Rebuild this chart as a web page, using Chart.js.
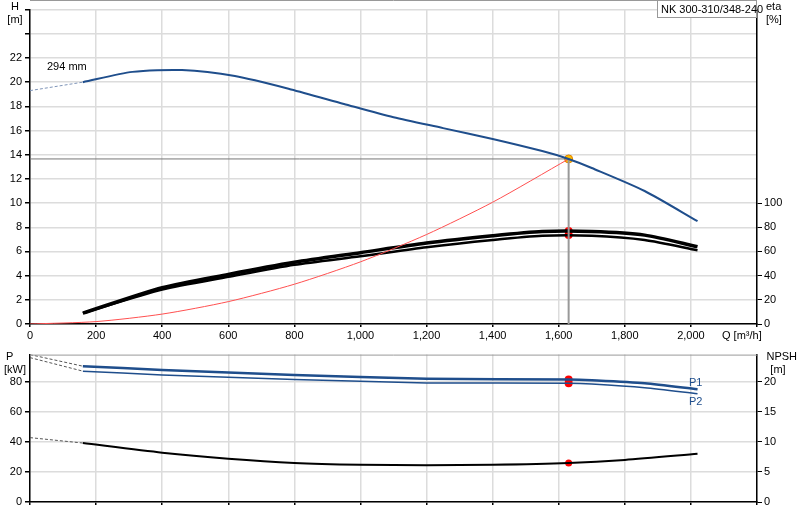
<!DOCTYPE html>
<html><head><meta charset="utf-8">
<script src="https://cdn.jsdelivr.net/npm/chart.js@4"></script>
<style>body{margin:0;background:#fff}#a{width:800px;height:345px}#b{width:800px;height:175px}div{position:relative}</style>
</head><body>
<div id="a"><canvas id="c1"></canvas></div>
<div id="b"><canvas id="c2"></canvas></div>
<script>
const headQ=[160,310,460,620,790,950,1100,1250,1400,1550,1630,1700,1860,2020];
const headH=[20.0,20.85,21.0,20.5,19.4,18.2,17.1,16.2,15.3,14.3,13.65,12.9,11.0,8.5];
const headDashQ=[0,160], headDashH=[19.3,20.0];
const etaQ=[160,400,600,800,1000,1200,1400,1550,1700,1860,2020];
const eta1=[9,30,41,51,59,67,73,76.5,76.5,73.5,64];
const eta2=[9,28.5,39,49,56,63.5,69.5,73,73,69.5,61];
const sysQ=[0,200,400,600,800,1000,1200,1400,1630];
const sysH=[0,0.2,0.82,1.85,3.29,5.14,7.4,10.07,13.65];
const dutyQ=1630, dutyH=13.65, dutyEta1=77, dutyEta2=73.5;
const pQ=[160,400,800,1200,1630,1700,1860,2020];
const p1=[90.3,87.8,84.5,82,81.5,81,79,75];
const p2=[87,84.5,81.5,79.2,79,78.5,76,72];
const p1Dash=[98,90.3], p2Dash=[96,87], pDashQ=[0,160];
const dutyP1=81.5, dutyP2=79;
const npQ=[160,400,600,800,1000,1200,1400,1630,1800,2020];
const npsh=[9.8,8.2,7.2,6.5,6.2,6.1,6.2,6.5,7.0,8.0];
const npDashQ=[0,160], npDash=[10.7,9.8];
const dutyNp=6.5;
const xTicks=[0,200,400,600,800,1000,1200,1400,1600,1800,2000];

const F="'Liberation Sans', Arial, sans-serif";
Chart.defaults.font.family=F;Chart.defaults.font.size=11;Chart.defaults.color='#000';
const pts=(xs,ys)=>xs.map((x,i)=>({x,y:ys[i]}));
const ln=(data,color,w,extra)=>Object.assign({data,borderColor:color,borderWidth:w,pointRadius:0,fill:false,tension:0.25},extra||{});
const grid={color:'#dcdcdc',lineWidth:1.5,tickColor:'#000',tickLength:5};
const xScale=(show)=>({type:'linear',min:0,max:2200,afterFit:s=>{s.height=show?21:18},
  afterBuildTicks:s=>{s.ticks=xTicks.concat([2200]).map(v=>({value:v}))},
  grid:Object.assign({},grid,{tickLength:3}),border:{color:'#000',width:1.5},
  ticks:{display:show,maxRotation:0,padding:2,callback:v=>v==2200?'':v.toLocaleString('en-US')}});

new Chart(document.getElementById('c1'),{type:'line',
 data:{datasets:[
  ln(pts(headDashQ,headDashH),'#7f95b8',1,{borderDash:[3,2],tension:0}),
  ln(pts(headQ,headH),'#1f4e8c',2),
  ln(pts(sysQ,sysH),'#ff5050',1),
  ln([{x:0,y:dutyH},{x:dutyQ,y:dutyH}],'#777',1,{tension:0}),
  ln([{x:dutyQ,y:dutyH},{x:dutyQ,y:0}],'#999',2,{tension:0}),
  ln(pts(etaQ,eta1),'#000',3.5,{yAxisID:'y2'}),
  ln(pts(etaQ,eta1),'#fff',1,{yAxisID:'y2'}),
  ln(pts(etaQ,eta2),'#000',2.5,{yAxisID:'y2'}),
  ln([{x:dutyQ,y:dutyEta1},{x:dutyQ,y:dutyEta2}],'#f00',0,{yAxisID:'y2',pointRadius:4,pointBackgroundColor:'#f00',pointBorderColor:'#f00',showLine:false}),
  ln([{x:dutyQ,y:dutyH}],'#e08000',0,{pointRadius:4,pointBackgroundColor:'#ffc000',pointBorderColor:'#e08000',pointBorderWidth:1,showLine:false})
 ]},
 options:{responsive:true,maintainAspectRatio:false,animation:false,events:[],
  layout:{padding:{top:-9,bottom:0,left:0,right:0}},
  plugins:{legend:{display:false},tooltip:{enabled:false}},
  scales:{
   x:xScale(true),
   y:{min:0,max:26,afterFit:s=>{s.width=30},afterBuildTicks:s=>{const t=[];for(let v=0;v<=26;v+=2)t.push({value:v});s.ticks=t},
      grid:grid,border:{color:'#000',width:1.5},ticks:{padding:3,callback:v=>v>22?'':v}},
   y2:{position:'right',min:0,max:260,afterFit:s=>{s.width=43},afterBuildTicks:s=>{const t=[];for(let v=0;v<=100;v+=20)t.push({value:v});s.ticks=t},
      grid:{drawOnChartArea:false,tickColor:'#000',tickLength:5},border:{color:'#000',width:1.5},ticks:{padding:2}}
  }},
 plugins:[{id:'t',afterDraw(c){const g=c.ctx;g.save();g.font='11px '+F;g.fillStyle='#000';
   g.textAlign='center';g.fillText('H',15,10);g.fillText('[m]',15,23);
   g.textAlign='left';g.fillText('eta',766,10);g.fillText('[%]',766,23);
   g.fillText('294 mm',47,70);g.fillText('Q [m³/h]',722,339);
   g.fillStyle='#fff';g.fillRect(657,0,100,18);g.strokeStyle='#999';g.lineWidth=1;g.strokeRect(657.5,0.5,99,17);
   g.fillStyle='#000';g.fillText('NK 300-310/348-240',661,13);
   g.strokeStyle='#999';g.beginPath();g.moveTo(30,0.5);g.lineTo(757,0.5);g.stroke();g.restore();
   console.log('top area',JSON.stringify(c.chartArea));}}]
});

new Chart(document.getElementById('c2'),{type:'line',
 data:{datasets:[
  ln(pts(pDashQ,p1Dash),'#555',1,{borderDash:[3,2],tension:0}),
  ln(pts(pDashQ,p2Dash),'#555',1,{borderDash:[3,2],tension:0}),
  ln(pts(pQ,p1),'#1f4e8c',2.5),
  ln(pts(pQ,p1),'#aab8cc',0.8),
  ln(pts(pQ,p2),'#1f4e8c',1.5),
  ln(pts(npDashQ,npDash),'#555',1,{borderDash:[3,2],tension:0,yAxisID:'y2'}),
  ln(pts(npQ,npsh),'#000',2,{yAxisID:'y2'}),
  ln([{x:dutyQ,y:dutyP1},{x:dutyQ,y:dutyP2}],'#f00',0,{pointRadius:4,pointBackgroundColor:'#f00',pointBorderColor:'#f00',showLine:false}),
  ln([{x:dutyQ,y:dutyNp}],'#f00',0,{yAxisID:'y2',pointRadius:3.5,pointBackgroundColor:'#f00',pointBorderColor:'#f00',showLine:false})
 ]},
 options:{responsive:true,maintainAspectRatio:false,animation:false,events:[],
  layout:{padding:{top:0,bottom:0}},
  plugins:{legend:{display:false},tooltip:{enabled:false}},
  scales:{
   x:xScale(false),
   y:{min:0,max:98,afterFit:s=>{s.width=30},afterBuildTicks:s=>{const t=[];for(let v=0;v<=80;v+=20)t.push({value:v});s.ticks=t},
      grid:grid,border:{color:'#000',width:1.5},ticks:{padding:3}},
   y2:{position:'right',min:0,max:24.5,afterFit:s=>{s.width=43},afterBuildTicks:s=>{const t=[];for(let v=0;v<=20;v+=5)t.push({value:v});s.ticks=t},
      grid:{drawOnChartArea:false,tickColor:'#000',tickLength:5},border:{color:'#000',width:1.5},ticks:{padding:2}}
  }},
 plugins:[{id:'t2',afterDraw(c){const g=c.ctx;const t=c.chartArea.top;g.save();g.font='11px '+F;g.fillStyle='#000';
   g.textAlign='left';g.fillText('P',6,t+5);g.fillText('[kW]',4,t+18);
   g.textAlign='right';g.fillText('NPSH',797,t+5);g.textAlign='center';g.fillText('[m]',778,t+18);
   g.fillStyle='#1f4e8c';g.textAlign='left';g.fillText('P1',689,t+31);g.fillText('P2',689,t+50);
   g.strokeStyle='#999';g.beginPath();g.moveTo(30,t+0.5);g.lineTo(757,t+0.5);g.stroke();g.restore();}}]
});
</script></body></html>
